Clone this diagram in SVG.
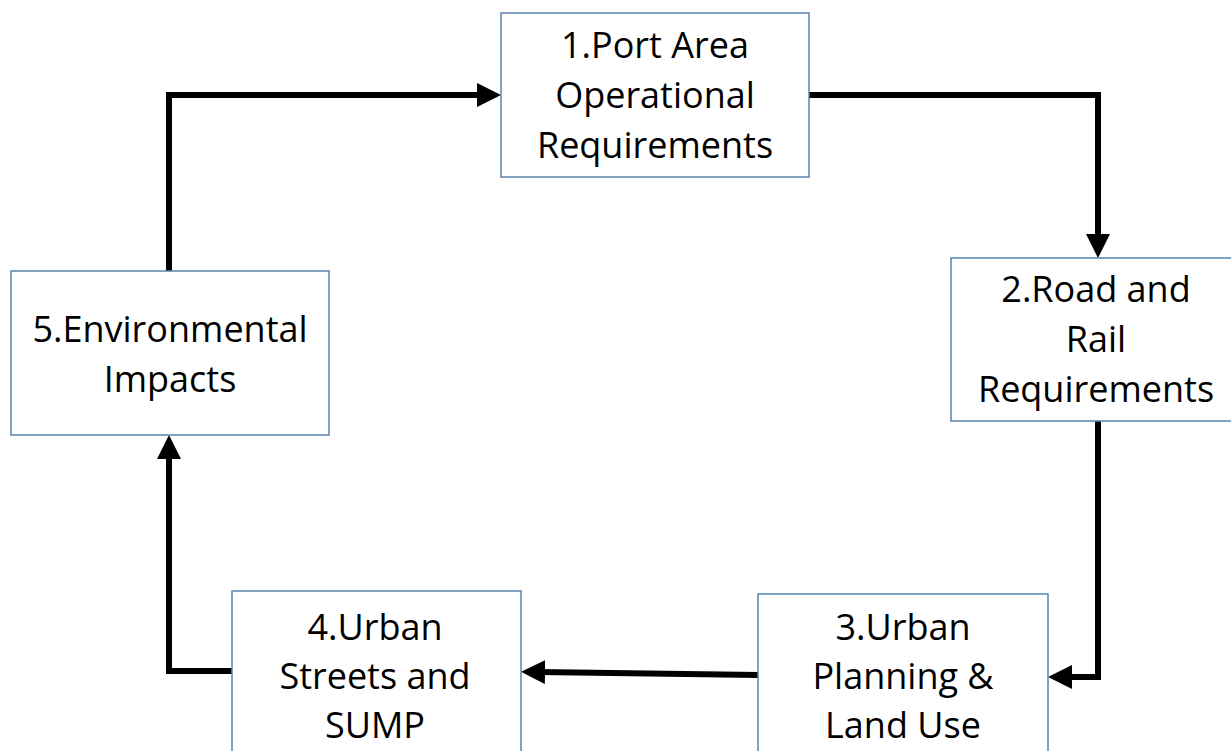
<svg xmlns="http://www.w3.org/2000/svg" width="1231" height="751" viewBox="0 0 1231 751">
<style>
.box{fill:#fff;stroke:#5b82ad;stroke-width:1.5}
.t{font-family:"Open Sans","Liberation Sans",sans-serif;font-size:36px;fill:#000;text-anchor:middle}
.c{fill:none;stroke:#000;stroke-width:6;stroke-linejoin:miter}
</style>
<defs>
<marker id="ah" markerWidth="4" markerHeight="4" refX="1" refY="2" orient="auto" markerUnits="strokeWidth">
<path d="M0,0 L4,2 L0,4 Z" fill="#000"/>
</marker>
</defs>
<rect width="1231" height="751" fill="#fff"/>
<g id="connectors">
<path class="c" d="M169,271 V95 H483" marker-end="url(#ah)"/>
<path class="c" d="M809,95 H1098 V240" marker-end="url(#ah)"/>
<path class="c" d="M1098,421 V677 H1066" marker-end="url(#ah)"/>
<path class="c" d="M758,675 L539,672" marker-end="url(#ah)"/>
<path class="c" d="M232,671 H169 V453" marker-end="url(#ah)"/>
</g>
<g id="node1">
<rect class="box" x="501" y="13" width="308" height="164"/>
<text class="t" x="655" y="58">1.Port Area</text>
<text class="t" x="655" y="108">Operational</text>
<text class="t" x="655" y="158">Requirements</text>
</g>
<g id="node2">
<rect class="box" x="951" y="258" width="282" height="163"/>
<text class="t" x="1096" y="302">2.Road and</text>
<text class="t" x="1096" y="352">Rail</text>
<text class="t" x="1096" y="402">Requirements</text>
</g>
<g id="node3">
<rect class="box" x="758" y="594" width="290" height="170"/>
<text class="t" x="903" y="640">3.Urban</text>
<text class="t" x="903" y="689">Planning &amp;</text>
<text class="t" x="903" y="738">Land Use</text>
</g>
<g id="node4">
<rect class="box" x="232" y="591" width="289" height="170"/>
<text class="t" x="375" y="640">4.Urban</text>
<text class="t" x="375" y="689">Streets and</text>
<text class="t" x="375" y="738">SUMP</text>
</g>
<g id="node5">
<rect class="box" x="11" y="271" width="318" height="164"/>
<text class="t" x="170" y="342">5.Environmental</text>
<text class="t" x="170" y="392">Impacts</text>
</g>
</svg>
